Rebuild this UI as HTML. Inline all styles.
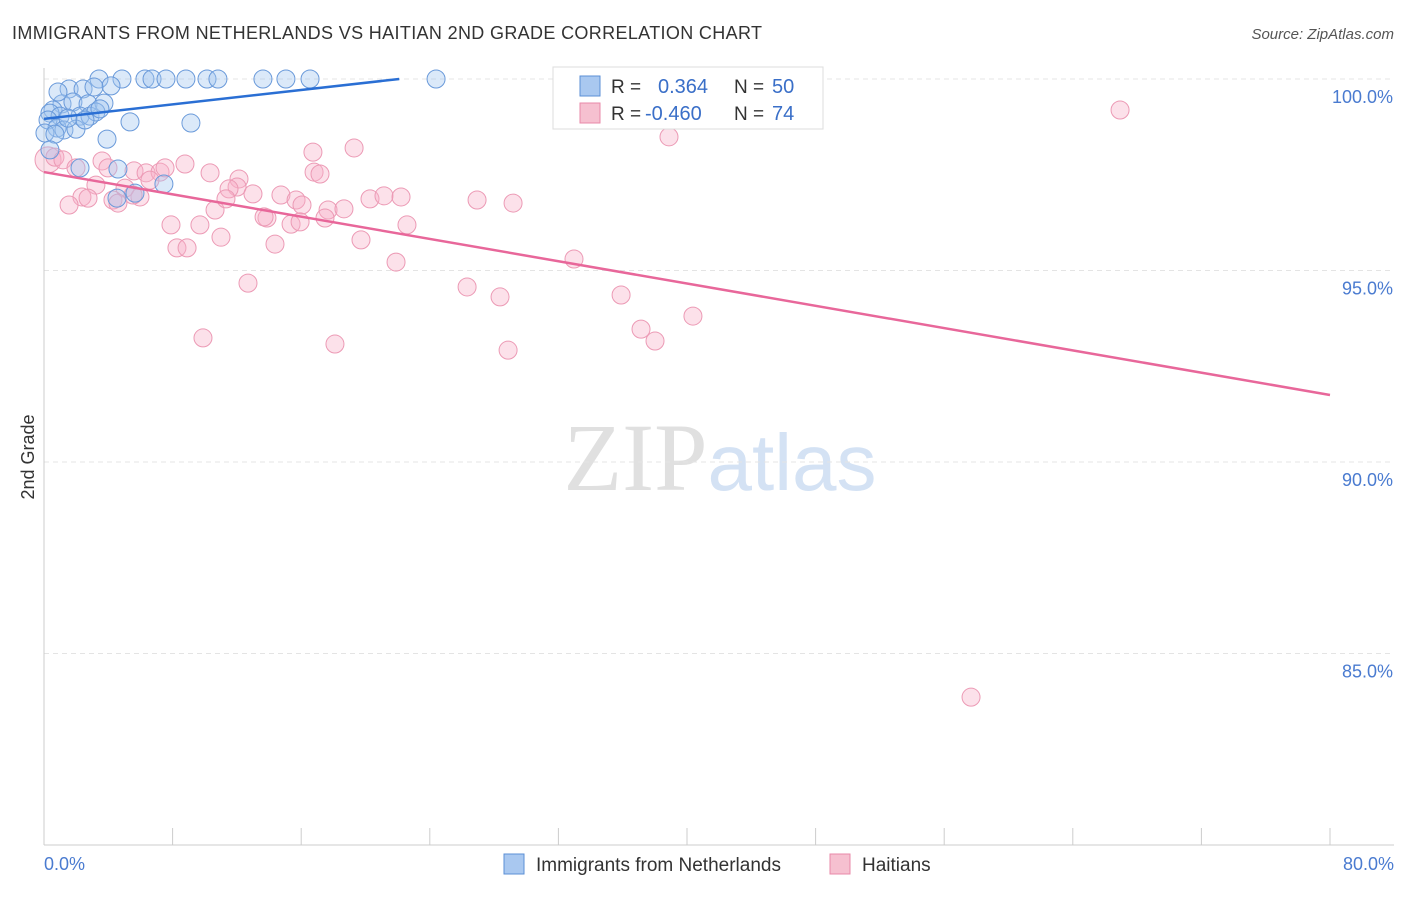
<!DOCTYPE html>
<html><head><meta charset="utf-8"><style>
body{margin:0;background:#fff;font-family:"Liberation Sans",sans-serif;}
</style></head><body>
<svg id="chart" width="1406" height="892" xmlns="http://www.w3.org/2000/svg" font-family="Liberation Sans, sans-serif">
<text x="12" y="39" font-size="18" fill="#333" textLength="750">IMMIGRANTS FROM NETHERLANDS VS HAITIAN 2ND GRADE CORRELATION CHART</text>
<text x="1394" y="39" font-size="15" fill="#555" text-anchor="end" font-style="italic">Source: ZipAtlas.com</text>
<text x="720" y="490" font-size="96" text-anchor="middle"><tspan font-family="Liberation Serif, serif" fill="#e0e0e0">ZIP</tspan><tspan fill="#d4e2f4" font-size="80">atlas</tspan></text>
<g id="grid"></g><g id="axes"></g><g id="marks"></g>
<text transform="translate(34,457) rotate(-90)" font-size="18" fill="#333" text-anchor="middle">2nd Grade</text>
<g>
<rect x="553" y="67" width="270" height="62" fill="#fff" stroke="#ddd"/>
<rect x="580" y="76" width="20" height="20" fill="#a9c8f0" stroke="#5b8fd6"/>
<text x="611" y="93" font-size="19" fill="#333">R =</text><text x="658" y="93" font-size="20" fill="#3a6fc8">0.364</text>
<text x="734" y="93" font-size="19" fill="#333">N =</text><text x="772" y="93" font-size="20" fill="#3a6fc8">50</text>
<rect x="580" y="103" width="20" height="20" fill="#f6c0d0" stroke="#e889a8"/>
<text x="611" y="120" font-size="19" fill="#333">R =</text><text x="645" y="120" font-size="20" fill="#3a6fc8">-0.460</text>
<text x="734" y="120" font-size="19" fill="#333">N =</text><text x="772" y="120" font-size="20" fill="#3a6fc8">74</text>
</g>
<g>
<rect x="504" y="854" width="20" height="20" fill="#a9c8f0" stroke="#5b8fd6"/>
<text x="536" y="871" font-size="19" fill="#333">Immigrants from Netherlands</text>
<rect x="830" y="854" width="20" height="20" fill="#f6c0d0" stroke="#e889a8"/>
<text x="862" y="871" font-size="19" fill="#333">Haitians</text>
</g>
</svg>
<script>
const blueX=[3.42,4.85,6.28,6.72,7.59,8.83,10.14,10.82,13.62,15.05,16.55,24.39,1.56,2.43,4.17,3.11,1.12,1.80,2.74,3.73,0.56,0.37,1.00,2.24,2.86,3.23,0.25,0.81,1.24,1.99,3.92,5.35,9.14,0.06,0.68,4.60,5.66,7.46,4.54,0.37,3.48,1.49,2.55,2.24,0.87];
const blueY=[100,100,100,100,100,100,100,100,100,100,100,100,99.74,99.74,99.82,99.79,99.35,99.40,99.35,99.37,99.19,99.11,99.03,99.03,99.03,99.14,98.93,98.72,98.67,98.69,98.43,98.88,98.85,98.59,98.56,97.65,97.02,97.26,96.89,98.15,99.22,98.98,98.93,97.68,99.66];
const pinkX=[0.25,0.68,1.18,1.99,3.61,3.98,5.60,6.35,7.22,7.53,8.77,10.33,12.13,12.01,11.51,13.00,3.23,5.04,2.36,1.56,2.74,4.29,4.60,5.97,7.90,8.27,8.90,9.70,10.64,11.01,12.69,9.89,13.87,14.74,13.69,14.37,15.68,16.05,15.37,15.93,16.80,17.17,16.73,17.67,17.48,18.66,19.29,19.72,20.28,21.15,22.21,22.58,21.90,18.10,26.32,26.94,28.37,28.87,29.18,32.97,35.90,37.14,38.01,40.37,38.88,66.94,57.67,32.41,33.22,6.59,11.32,5.54];
const pinkY=[97.89,97.96,97.89,97.68,97.86,97.68,97.60,97.55,97.57,97.68,97.78,97.55,97.39,97.18,97.13,97.00,97.23,97.15,96.92,96.71,96.89,96.84,96.76,96.92,96.19,95.59,95.59,96.19,96.58,95.87,94.67,93.24,96.37,96.97,96.40,95.69,96.84,96.71,96.21,96.27,97.57,97.52,98.09,96.58,96.37,96.61,98.20,95.80,96.87,96.95,96.92,96.19,95.22,93.08,94.57,96.84,94.31,92.92,96.76,95.30,94.36,93.47,93.16,93.81,98.49,99.19,83.86,100.03,100,97.36,96.87,96.97];
const blueTrend=[[0,98.96],[22.1,100]];
const pinkTrend=[[0,97.57],[80,91.75]];
const yTicks=[100,95,90,85];
const xTicks=[8,16,24,32,40,48,56,64,72,80];
const NS='http://www.w3.org/2000/svg';
const sx=v=>44+v/80*1286;
const sy=v=>79+(100-v)*38.3;
function mk(tag,attrs,parent){const e=document.createElementNS(NS,tag);for(const k in attrs)e.setAttribute(k,attrs[k]);document.getElementById(parent).appendChild(e);return e;}
yTicks.forEach(t=>{
 const l=mk('line',{x1:44,x2:1394,y1:sy(t),y2:sy(t),stroke:'#e4e4e4','stroke-dasharray':'5,4'},'grid');
 
 
 const tx=mk('text',{x:1393,y:sy(t)+24,'font-size':18,fill:'#4a7bd0','text-anchor':'end'},'axes');
 tx.textContent=t.toFixed(1)+'%';
 
 
});
const ya=mk('line',{x1:44,x2:44,y1:68,y2:845,stroke:'#ccc'},'axes');


const xa=mk('line',{x1:44,x2:1394,y1:845,y2:845,stroke:'#ccc'},'axes');


xTicks.forEach(t=>{
 const l=mk('line',{x1:sx(t),x2:sx(t),y1:828,y2:845,stroke:'#ccc'},'axes');
 
 
});
[[0,'0.0%','start',44],[80,'80.0%','end',1394]].forEach(d=>{
 const tx=mk('text',{x:d[3],y:870,'font-size':18,fill:'#4a7bd0','text-anchor':d[2]},'axes');
 tx.textContent=d[1];
 
 
});
pinkX.forEach((x,i)=>{
 const c=mk('circle',{cx:sx(x),cy:sy(pinkY[i]),r:i===0?13:9,fill:'rgba(246,176,200,0.38)',stroke:'#ec9ab5','stroke-width':1},'marks');
 
 
});
blueX.forEach((x,i)=>{
 const c=mk('circle',{cx:sx(x),cy:sy(blueY[i]),r:9,fill:'rgba(160,196,240,0.38)',stroke:'#6a9ada','stroke-width':1},'marks');
 
 
});
const bl=mk('line',{x1:sx(blueTrend[0][0]),y1:sy(blueTrend[0][1]),x2:sx(blueTrend[1][0]),y2:sy(blueTrend[1][1]),stroke:'#2a6fd4','stroke-width':2.5},'marks');


const pl=mk('line',{x1:sx(pinkTrend[0][0]),y1:sy(pinkTrend[0][1]),x2:sx(pinkTrend[1][0]),y2:sy(pinkTrend[1][1]),stroke:'#e8679a','stroke-width':2.5},'marks');


</script>
</body></html>
